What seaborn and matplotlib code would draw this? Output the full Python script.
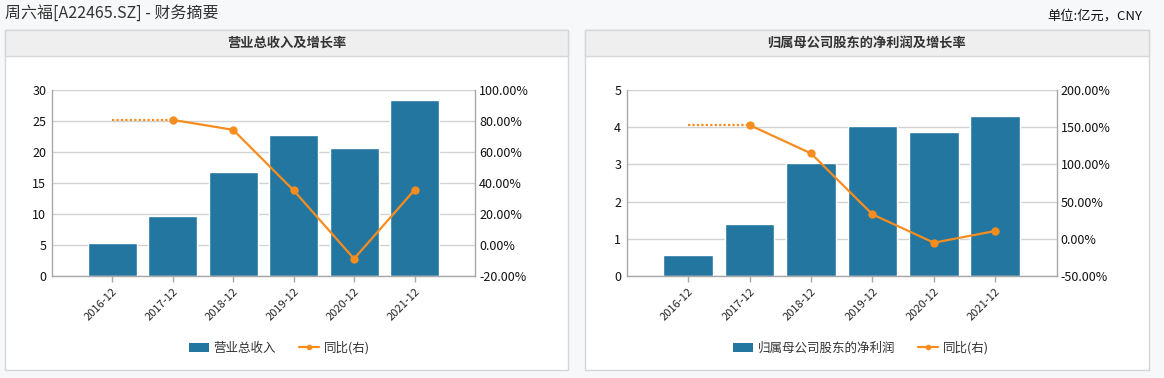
import numpy as np
import pandas as pd
import seaborn as sns
import matplotlib.pyplot as plt
from matplotlib.patches import Rectangle, Patch
from matplotlib.lines import Line2D

# data
periods = ['2016-12', '2017-12', '2018-12', '2019-12', '2020-12', '2021-12']
revenue = [5.35, 9.7, 16.7, 22.7, 20.7, 28.3]
revenue_yoy = [None, 80.6, 74.2, 35.3, -8.7, 35.5]
profit = [0.57, 1.40, 3.03, 4.03, 3.87, 4.29]
profit_yoy = [None, 152.6, 114.7, 33.0, -5.0, 10.7]

left_ticks = [[0, 5, 10, 15, 20, 25, 30], [0, 1, 2, 3, 4, 5]]
right_ticks = [[-20, 0, 20, 40, 60, 80, 100], [-50, 0, 50, 100, 150, 200]]

bar_color = '#2376a0'
line_color = '#f78d1e'
grid_color = '#d2d2d2'
spine_color = '#a8a8a8'

sns.set_theme(style='white')
plt.rcParams['font.family'] = ['Noto Sans CJK SC', 'DejaVu Sans']

W, H = 1164, 378
fig = plt.figure(figsize=(W / 100, H / 100), dpi=100)
fig.patch.set_facecolor('#f7f8fa')


def px_box(x0, y0, x1, y1):
    # pixel box (top-left origin) -> figure fraction rect
    return [x0 / W, 1 - y1 / H, (x1 - x0) / W, (y1 - y0) / H]


def panel(x0, x1, title):
    l, b, w, h = px_box(x0, 30, x1, 370)
    fig.patches.append(Rectangle((l, b), w, h, transform=fig.transFigure,
                                 facecolor='white', edgecolor='#d6d6d6', lw=1, zorder=-2))
    l, b, w, h = px_box(x0, 30, x1, 56)
    fig.patches.append(Rectangle((l, b), w, h, transform=fig.transFigure,
                                 facecolor='#efefef', edgecolor='#d6d6d6', lw=1, zorder=-1))
    fig.text((x0 + x1) / 2 / W, 1 - 43 / H, title, ha='center', va='center',
             fontsize=9.5, fontweight='bold', color='#333333')


def chart(x0, x1, values, yoy, lt, rt, bar_label, legend_x):
    ax = fig.add_axes(px_box(x0, 89.7, x1, 276.3))
    ax.patch.set_alpha(0)
    df = pd.DataFrame({'period': periods, 'value': values})
    sns.barplot(data=df, x='period', y='value', color=bar_color, saturation=1,
                width=0.81, ax=ax, zorder=2)
    ax.set_xlim(-1, len(periods))
    ax.set_ylim(lt[0], lt[-1])
    ax.set_yticks(lt)
    ax.set_xlabel('')
    ax.set_ylabel('')
    ax.grid(axis='y', color=grid_color, lw=1, zorder=0)
    ax.set_axisbelow(True)
    ax.tick_params(axis='y', labelsize=9, colors='#111111', length=0, pad=4)
    ax.tick_params(axis='x', labelsize=8, colors='#222222', length=4, width=1,
                   color=spine_color, bottom=True, pad=3)
    plt.setp(ax.get_xticklabels(), rotation=45, ha='right', rotation_mode='anchor')
    for s in ['left', 'right', 'bottom']:
        ax.spines[s].set_color(spine_color)
        ax.spines[s].set_linewidth(1)
    ax.spines['top'].set_visible(False)

    ax2 = ax.twinx()
    idx = np.arange(len(periods))
    ydf = pd.DataFrame({'x': idx, 'yoy': yoy}).dropna()
    sns.lineplot(data=ydf, x='x', y='yoy', color=line_color, lw=1.6, marker='o',
                 markersize=6, markeredgewidth=0, ax=ax2, zorder=3)
    # missing first year: dotted carry-over to first reported point
    first = ydf.iloc[0]
    ax2.plot([idx[0], first['x']], [first['yoy'], first['yoy']], color=line_color,
             lw=1.6, ls=(0, (1, 1)), zorder=3)
    ax2.set_ylim(rt[0], rt[-1])
    ax2.set_yticks(rt)
    ax2.set_yticklabels([f'{v:.2f}%' for v in rt])
    ax2.set_xlim(-1, len(periods))
    ax2.set_xlabel('')
    ax2.set_ylabel('')
    ax2.tick_params(axis='y', labelsize=9, colors='#111111', length=0, pad=3)
    for s in ['left', 'right', 'bottom', 'top']:
        ax2.spines[s].set_visible(False)
    ax2.grid(False)

    handles = [Patch(facecolor=bar_color, edgecolor='none'),
               Line2D([0], [0], color=line_color, lw=1.6, marker='o', markersize=3)]
    fig.legend(handles, [bar_label, '同比(右)'], loc='center',
               bbox_to_anchor=(legend_x / W, 1 - 348 / H), ncol=2, frameon=False,
               fontsize=9, handlelength=1.6, handleheight=0.8, columnspacing=1.8,
               handletextpad=0.4, labelcolor='#333333')


panel(5, 568, '营业总收入及增长率')
panel(585, 1149, '归属母公司股东的净利润及增长率')

chart(51.7, 475, revenue, revenue_yoy, left_ticks[0], right_ticks[0], '营业总收入', 279)
chart(626.7, 1056.7, profit, profit_yoy, left_ticks[1], right_ticks[1], '归属母公司股东的净利润', 861)

fig.text(5 / W, 1 - 13 / H, '周六福[A22465.SZ] - 财务摘要', ha='left', va='center',
         fontsize=11.5, color='#333333')
fig.text(1142 / W, 1 - 16 / H, '单位:亿元，CNY', ha='right', va='center',
         fontsize=9.5, color='#111111')

fig.savefig('out.png', dpi=100, facecolor=fig.get_facecolor())
